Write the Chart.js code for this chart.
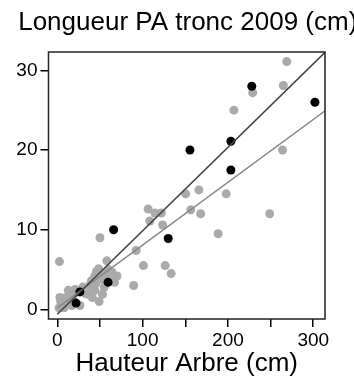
<!DOCTYPE html>
<html>
<head>
<meta charset="utf-8">
<script src="https://cdn.jsdelivr.net/npm/chart.js@4/dist/chart.umd.min.js"></script>
<style>
  html, body { margin: 0; padding: 0; background: #fff; }
</style>
</head>
<body>
<canvas id="plot" width="354" height="382"></canvas>
<script>
// tree height (cm) vs trunk length (cm)
var grayX = [269, 229, 265, 207, 264,
    150.5, 166, 198, 156.5, 168, 249, 188.5,
    106.5, 114.5, 122, 108.5, 123.5, 50, 92.5, 101, 126.5, 133.5, 58, 70, 89.5, 2.5,
    49, 48.5, 54, 44, 13, 36, 53, 26.5, 44, 67,
    2, 4, 5, 7, 8, 10, 12, 15, 17, 19, 21, 3, 30, 33, 38, 40, 45, 46, 51, 56, 60, 62, 64, 55, 41];
var grayY = [31.1, 27.2, 28.1, 25.0, 20.0,
    14.5, 15.0, 14.5, 12.5, 12.0, 12.0, 9.5,
    12.6, 12.1, 12.1, 11.1, 10.6, 9.0, 7.4, 5.5, 5.5, 4.5, 6.1, 4.2, 3.0, 6.0,
    1.0, 5.1, 4.2, 4.2, 2.4, 1.9, 1.9, 0.5, 2.4, 3.4,
    0.2, 1.0, 0.5, 1.3, 0.2, 1.5, 0.8, 1.2, 0.5, 1.8, 2.5, 1.5, 2.8, 2.0, 3.0, 3.6, 3.2, 4.8, 3.8, 4.6, 5.0, 4.2, 4.7, 2.8, 1.5];

var blackX = [22, 26.5, 59.5, 66, 130, 155.5, 203.5, 203.5, 228, 302];
var blackY = [0.8, 2.2, 3.4, 10.0, 8.9, 20.0, 17.5, 21.1, 28.0, 26.0];

// fitted lines, end points
var darkLineX = [0, 320];
var darkLineY = [-0.6, 32.9];
var lightLineX = [0, 320];
var lightLineY = [0.2, 25.4];

var xTicks = [0, 50, 100, 150, 200, 250, 300];
var xLabelled = [0, 100, 200, 300];
var yTicks = [0, 10, 20, 30];

var FONT = "'Liberation Sans', Arial, sans-serif";

function pairs(xs, ys) {
    return xs.map(function (x, i) { return {x: x, y: ys[i]}; });
}

// box round the plot area and the main title
var frame = {
    id: 'frame',
    afterDraw: function (chart) {
        var a = chart.chartArea, ctx = chart.ctx;
        ctx.save();
        ctx.strokeStyle = '#222';
        ctx.lineWidth = 1.5;
        ctx.strokeRect(a.left, a.top, a.right - a.left, a.bottom - a.top);
        ctx.fillStyle = '#000';
        ctx.font = '26px ' + FONT;
        ctx.textAlign = 'center';
        ctx.textBaseline = 'middle';
        ctx.fillText('Longueur PA tronc 2009 (cm)', (a.left + a.right) / 2 + 1, 23);
        ctx.restore();
    }
};

var ctx = document.getElementById('plot').getContext('2d');
var chart = new Chart(ctx, {
    type: 'scatter',
    data: {
        datasets: [{
            type: 'line',
            data: pairs(darkLineX, darkLineY),
            borderColor: '#444',
            borderWidth: 1.6,
            pointRadius: 0,
            order: 0
        }, {
            type: 'line',
            data: pairs(lightLineX, lightLineY),
            borderColor: '#888',
            borderWidth: 1.5,
            pointRadius: 0,
            order: 1
        }, {
            data: pairs(grayX, grayY),
            backgroundColor: '#aaaaaa',
            borderWidth: 0,
            pointRadius: 4.5,
            order: 3
        }, {
            data: pairs(blackX, blackY),
            backgroundColor: '#000',
            borderWidth: 0,
            pointRadius: 4.5,
            order: 2
        }]
    },
    options: {
        responsive: false,
        animation: false,
        layout: {padding: {top: 52, right: 29, left: 0, bottom: 0}},
        plugins: {
            legend: {display: false},
            tooltip: {enabled: false}
        },
        scales: {
            x: {
                type: 'linear',
                min: -10.3,
                max: 313.8,
                afterBuildTicks: function (s) {
                    s.ticks = xTicks.map(function (v) { return {value: v}; });
                },
                afterFit: function (s) { s.height = 63; },
                ticks: {
                    autoSkip: false,
                    maxRotation: 0,
                    padding: 2,
                    color: '#000',
                    font: {size: 19, family: FONT},
                    callback: function (v) { return xLabelled.indexOf(v) >= 0 ? String(v) : ''; }
                },
                grid: {drawOnChartArea: false, drawTicks: true, tickLength: 8, color: '#000', lineWidth: 1.5},
                border: {display: false},
                title: {
                    display: true,
                    text: 'Hauteur Arbre (cm)',
                    color: '#000',
                    font: {size: 26, family: FONT},
                    padding: {top: 0, bottom: 3}
                }
            },
            y: {
                type: 'linear',
                min: -1.2,
                max: 32.3,
                afterBuildTicks: function (s) {
                    s.ticks = yTicks.map(function (v) { return {value: v}; });
                },
                afterFit: function (s) { s.width = 48.5; },
                ticks: {
                    padding: 3,
                    color: '#000',
                    font: {size: 19, family: FONT}
                },
                grid: {drawOnChartArea: false, drawTicks: true, tickLength: 8, color: '#000', lineWidth: 1.5},
                border: {display: false}
            }
        }
    },
    plugins: [frame]
});
</script>
</body>
</html>
